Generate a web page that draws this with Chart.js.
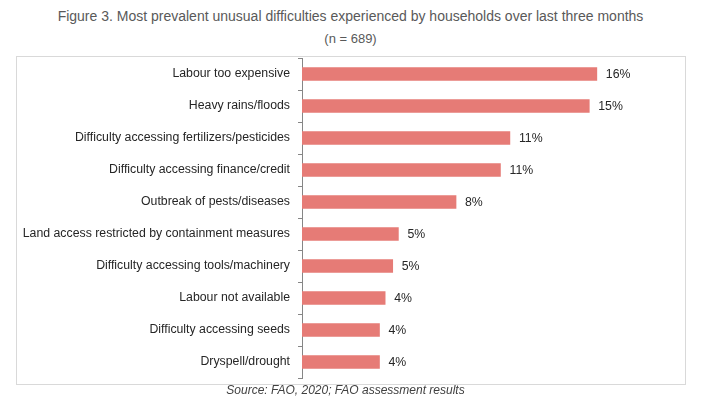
<!DOCTYPE html>
<html>
<head>
<meta charset="utf-8">
<script src="https://cdn.jsdelivr.net/npm/chart.js@4/dist/chart.umd.min.js"></script>
<style>
  body { margin: 0; width: 701px; height: 417px; background: #fff; position: relative; overflow: hidden;
         font-family: "Liberation Sans", Arial, sans-serif; }
  .txt { position: absolute; left: 0; width: 701px; text-align: center; white-space: nowrap; }
  #title { top: 8px; font-size: 14px; color: #595959; }
  #sub { top: 31px; font-size: 13px; color: #595959; }
  #box { position: absolute; left: 16px; top: 56px; width: 668px; height: 327px; border: 1px solid #d9d9d9; }
  #wrap { position: absolute; left: 16px; top: 56px; width: 669px; height: 328px; }
  #source { top: 383px; left: -5px; font-size: 12px; font-style: italic; color: #404040; }
</style>
</head>
<body>
<div id="title" class="txt">Figure 3. Most prevalent unusual difficulties experienced by households over last three months</div>
<div id="sub" class="txt">(n = 689)</div>
<div id="box"></div>
<div id="wrap"><canvas id="chart" width="669" height="328"></canvas></div>
<div id="source" class="txt">Source: FAO, 2020; FAO assessment results</div>
<script>
const categories = [
  "Labour too expensive",
  "Heavy rains/floods",
  "Difficulty accessing fertilizers/pesticides",
  "Difficulty accessing finance/credit",
  "Outbreak of pests/diseases",
  "Land access restricted by containment measures",
  "Difficulty accessing tools/machinery",
  "Labour not available",
  "Difficulty accessing seeds",
  "Dryspell/drought",
];
const shares = [15.6, 15.2, 11.0, 10.5, 8.15, 5.1, 4.8, 4.4, 4.1, 4.1];
const shareLabels = ["16%", "15%", "11%", "11%", "8%", "5%", "5%", "4%", "4%", "4%"];

const labelFont = '12.3px "Liberation Sans", Arial, sans-serif';

// value labels at the end of each bar
const barLabels = {
  id: "barLabels",
  afterDatasetsDraw(chart) {
    const ctx = chart.ctx;
    const meta = chart.getDatasetMeta(0);
    ctx.save();
    ctx.font = labelFont;
    ctx.fillStyle = "#262626";
    ctx.textBaseline = "middle";
    meta.data.forEach((bar, i) => {
      ctx.fillText(shareLabels[i], bar.x + 9, bar.y + 1);
    });
    ctx.restore();
  },
};

new Chart(document.getElementById("chart"), {
  type: "bar",
  data: {
    labels: categories,
    datasets: [
      {
        data: shares,
        backgroundColor: "#e67b76",
        barThickness: 13,
      },
    ],
  },
  options: {
    indexAxis: "y",
    responsive: false,
    animation: false,
    layout: { padding: { top: 2, bottom: 6, right: 5, left: 0 } },
    plugins: { legend: { display: false }, tooltip: { enabled: false } },
    scales: {
      x: { display: false, min: 0, max: 20 },
      y: {
        afterFit(scale) {
          scale.width = 286;
          scale.paddingTop = 0;
          scale.paddingBottom = 0;
        },
        border: { color: "#868686", width: 1 },
        grid: { drawOnChartArea: false, drawTicks: true, tickLength: 4, color: "#868686" },
        ticks: { color: "#262626", font: { family: "Liberation Sans", size: 12.3 }, padding: 8 },
      },
    },
  },
  plugins: [barLabels],
});
</script>
</body>
</html>
